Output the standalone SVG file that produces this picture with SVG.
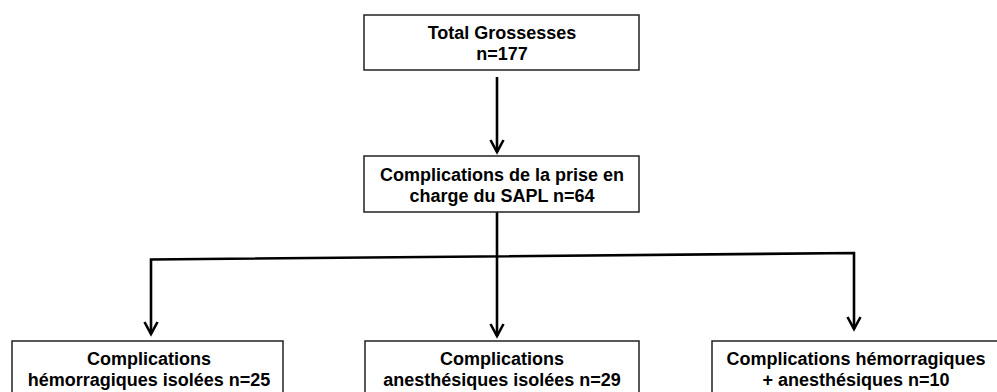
<svg xmlns="http://www.w3.org/2000/svg" width="997" height="392" viewBox="0 0 997 392">
<style>
.box{fill:#fff;stroke:#222;stroke-width:1.5}
.t{font-family:"Liberation Sans",Arial,sans-serif;font-weight:bold;font-size:18px;fill:#000;text-anchor:middle}
.ln{fill:none;stroke:#000;stroke-width:2.6}
.ah{fill:none;stroke:#000;stroke-width:2.6;stroke-linejoin:miter}
</style>
<rect width="997" height="392" fill="#fff"/>
<g id="connectors">
<line class="ln" x1="497" y1="77" x2="497" y2="152"/>
<path class="ah" d="M490.5,140 L497,152 L503.5,140"/>
<line class="ln" x1="497" y1="212" x2="497" y2="336"/>
<path class="ah" d="M490.5,324 L497,336 L503.5,324"/>
<polyline class="ln" points="151,334 151,259.5 854,253 854,329"/>
<path class="ah" d="M144.5,322 L151,334 L157.5,322"/>
<path class="ah" d="M847.5,317 L854,329 L860.5,317"/>
</g>
<g id="n1">
<rect class="box" x="364" y="15" width="275" height="55"/>
<text class="t" x="502" y="39">Total Grossesses</text>
<text class="t" x="502" y="60">n=177</text>
</g>
<g id="n2">
<rect class="box" x="364" y="156" width="275" height="56"/>
<text class="t" x="502" y="181">Complications de la prise en</text>
<text class="t" x="502" y="202">charge du SAPL n=64</text>
</g>
<g id="n3">
<rect class="box" x="12" y="341" width="271" height="60"/>
<text class="t" x="149" y="365">Complications</text>
<text class="t" x="149" y="386">hémorragiques isolées n=25</text>
</g>
<g id="n4">
<rect class="box" x="365" y="341" width="274" height="60"/>
<text class="t" x="502" y="365">Complications</text>
<text class="t" x="502" y="386">anesthésiques isolées n=29</text>
</g>
<g id="n5">
<rect class="box" x="712" y="341" width="292" height="60"/>
<text class="t" x="856" y="365">Complications hémorragiques</text>
<text class="t" x="856" y="386">+ anesthésiques n=10</text>
</g>
</svg>
